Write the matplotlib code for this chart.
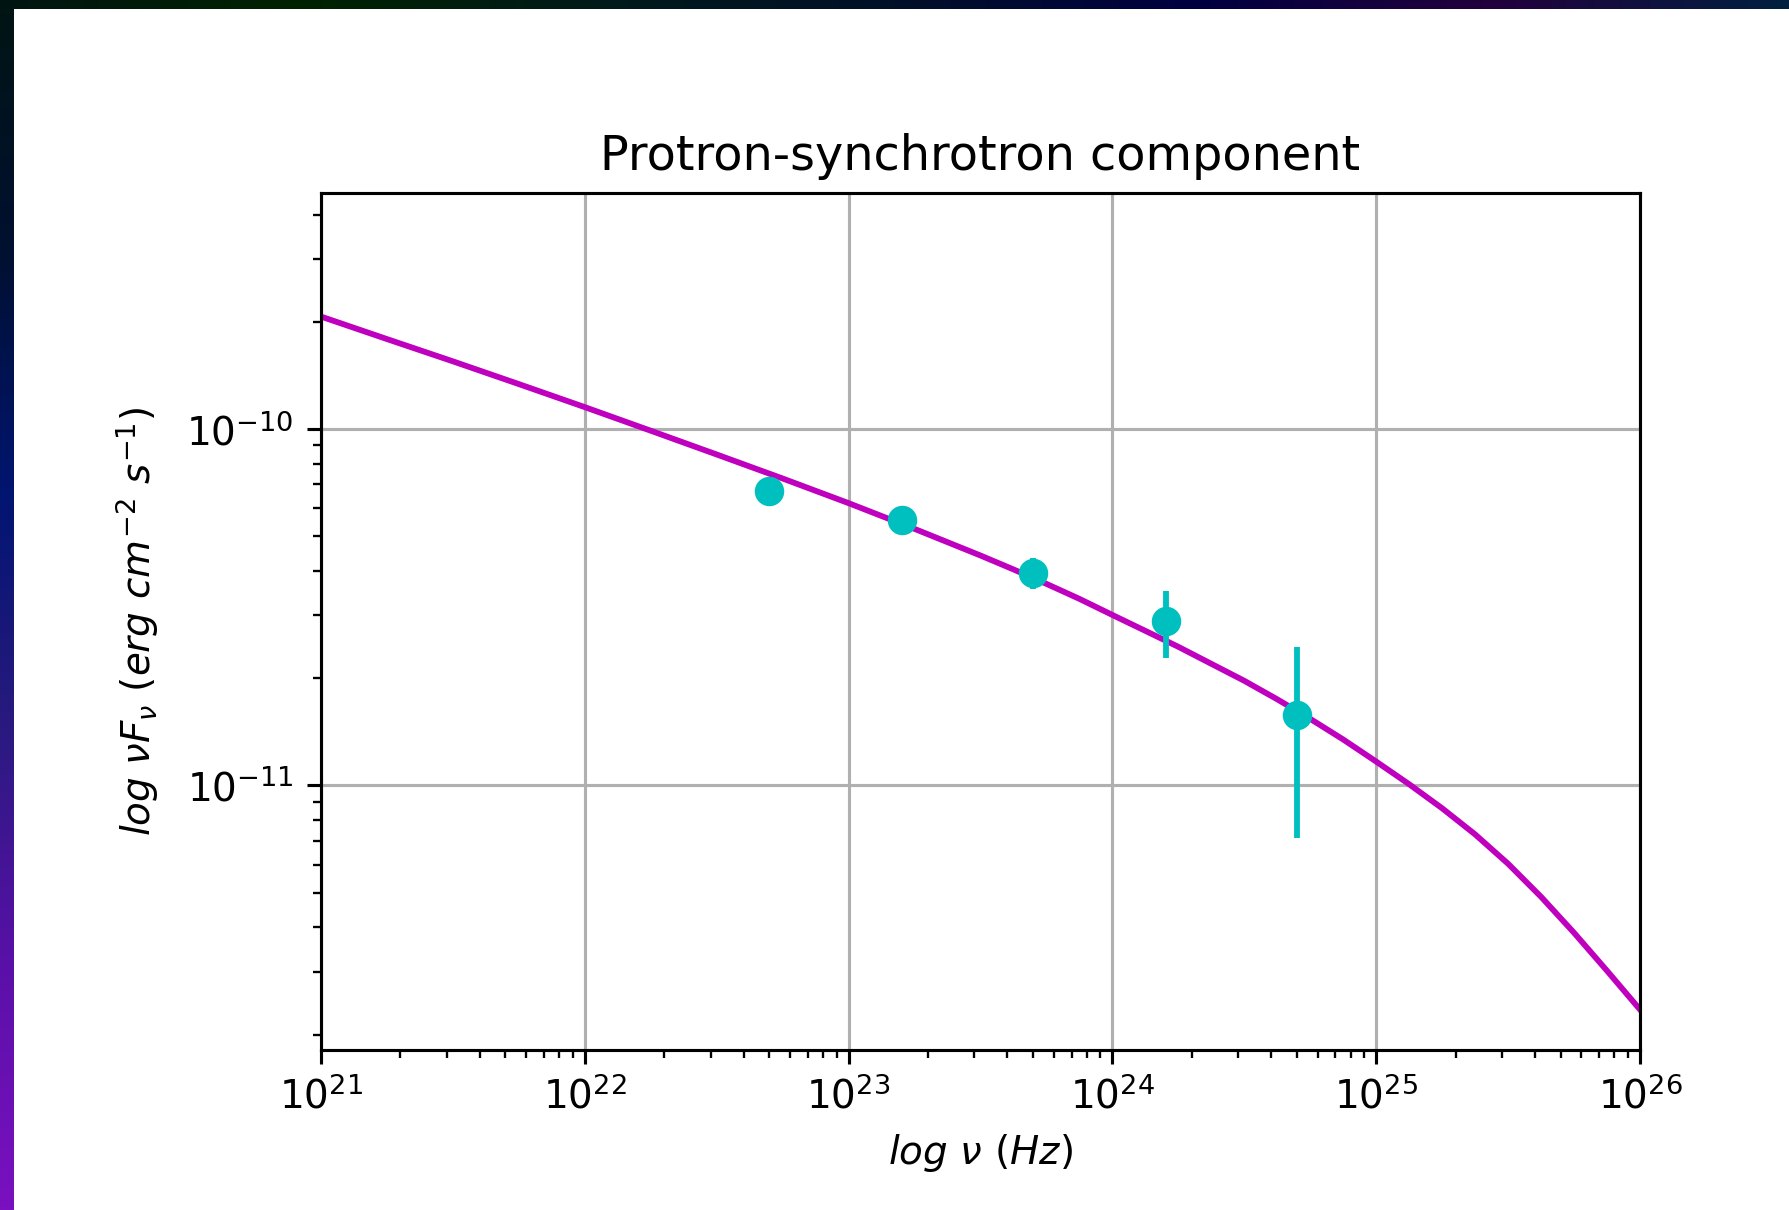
import numpy as np
import matplotlib
matplotlib.use("Agg")
import matplotlib.pyplot as plt
from matplotlib.colors import LinearSegmentedColormap

# model curve: log10(nu) grid and nuFnu (erg cm^-2 s^-1)
log_nu_model = [21.00, 21.25, 21.50, 21.75, 22.00, 22.25, 22.50, 22.75,
                23.00, 23.25, 23.50, 23.625, 23.75, 23.875, 24.00, 24.125,
                24.25, 24.375, 24.50, 24.625, 24.75, 24.875, 25.00, 25.125,
                25.25, 25.375, 25.50, 25.625, 25.75, 25.875, 26.00]
nufnu_model = [2.07e-10, 1.79e-10, 1.55e-10, 1.338e-10, 1.153e-10, 9.90e-11,
               8.49e-11, 7.27e-11, 6.20e-11, 5.25e-11, 4.42e-11, 4.04e-11,
               3.68e-11, 3.34e-11, 3.01e-11, 2.716e-11, 2.45e-11, 2.195e-11,
               1.967e-11, 1.745e-11, 1.538e-11, 1.346e-11, 1.167e-11, 1.008e-11,
               8.63e-12, 7.29e-12, 6.03e-12, 4.87e-12, 3.86e-12, 3.02e-12,
               2.35e-12]

# observed points
nu_obs = [5.0e22, 1.6e23, 5.0e23, 1.6e24, 5.0e24]
nufnu_obs = [6.7e-11, 5.55e-11, 3.95e-11, 2.9e-11, 1.58e-11]
nufnu_err = [0.3e-11, 0.25e-11, 0.4e-11, 0.62e-11, 0.87e-11]

plt.rcParams['font.size'] = 14
plt.rcParams['mathtext.fontset'] = 'dejavusans'

fig = plt.figure(figsize=(8.95, 6.05), dpi=200)
W, H = 1790, 1210

# dark gradient strips along the top and left edges
top_cmap = LinearSegmentedColormap.from_list(
    "top", ["#001512", "#002200", "#001a1a", "#001028", "#000040", "#22003c", "#002040"])
left_cmap = LinearSegmentedColormap.from_list(
    "left", ["#001515", "#001030", "#001570", "#2a1a80", "#5a10a8", "#7a10c0"])
band_top = fig.add_axes([0, 1 - 9 / H, 1, 9 / H])
band_top.imshow(np.linspace(0, 1, 512)[None, :], cmap=top_cmap, aspect="auto")
band_top.axis("off")
band_left = fig.add_axes([0, 0, 14 / W, 1 - 9 / H])
band_left.imshow(np.linspace(0, 1, 512)[:, None], cmap=left_cmap, aspect="auto")
band_left.axis("off")

ax = fig.add_axes([321 / W, 1 - 1050 / H, (1640 - 321) / W, (1050 - 193) / H])

ax.plot(10 ** np.array(log_nu_model), nufnu_model, color='m', lw=2.1)
ax.errorbar(nu_obs, nufnu_obs, yerr=nufnu_err, fmt='o', color='c',
            ms=9.6, elinewidth=2.1, capsize=0)

ax.set_xscale('log')
ax.set_yscale('log')
ax.set_xlim(1e21, 1e26)
ax.set_ylim(1.81e-12, 4.6e-10)

ax.grid(True, which='major', color='#b0b0b0', lw=1.12)
for s in ax.spines.values():
    s.set_linewidth(1.12)
ax.tick_params(which='major', length=4.9, width=1.12, pad=4.9)
ax.tick_params(which='minor', length=2.8, width=0.84)

ax.set_title('Protron-synchrotron component', fontsize=17.2, pad=8.4)
ax.set_xlabel(r'$log\ \nu\ (Hz)$', labelpad=5.6)
ax.set_ylabel(r'$log\ \nu F_{\nu}\ (erg\ cm^{-2}\ s^{-1})$', labelpad=9)

fig.savefig('out.png', dpi=200, facecolor='white')
